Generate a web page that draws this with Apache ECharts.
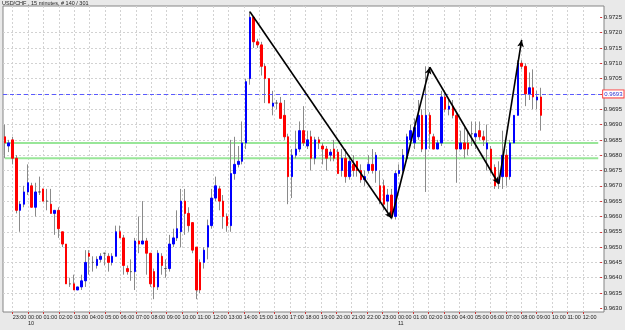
<!DOCTYPE html>
<html><head><meta charset="utf-8">
<script src="https://cdn.jsdelivr.net/npm/echarts@6/dist/echarts.min.js"></script>
<style>html,body{margin:0;padding:0;background:#e9e9e9}#c{width:625px;height:330px}</style>
</head><body><div id="c"></div>
<script>
const chartTitle = 'USD/CHF , 15 minutes, # 140 / 301';
const dateLabel = 'Jan/09/11';
const hourTicks = ['23:00','00:00','01:00','02:00','03:00','04:00','05:00','06:00','07:00','08:00','09:00','10:00','11:00','12:00','13:00','14:00','15:00','16:00','17:00','18:00','19:00','20:00','21:00','22:00','23:00','00:00','01:00','02:00','03:00','04:00','05:00','06:00','07:00','08:00','09:00','10:00','11:00','12:00'];
const dayMarks = ['', '10', '', '', '', '', '', '', '', '', '', '', '', '', '', '', '', '', '', '', '', '', '', '', '', '11', '', '', '', '', '', '', '', '', '', '', '', ''];
const priceTicks = [0.9630,0.9635,0.9640,0.9645,0.9650,0.9655,0.9660,0.9665,0.9670,0.9675,0.9680,0.9685,0.9690,0.9695,0.9700,0.9705,0.9710,0.9715,0.9720,0.9725];

const open = [.9686,.9683,.9685,.9679,.9662,.9664,.9668,.9670,.9663,.9668,.9669,.9665,.9664,.9661,.9662,.9655,.9651,.9638,.9638,.9636,
.9637,.9639,.9648,.9645,.9644,.9646,.9648,.9647,.9645,.9647,.9655,.9653,.9643,.9642,.9642,.9652,.9651,.9652,.9648,.9642,
.9637,.9647,.9643,.9643,.9651,.9653,.9655,.9665,.9661,.9658,.9650,.9645,.9645,.9650,.9657,.9666,.9669,.9665,.9660,.9657,
.9674,.9677,.9678,.9684,.9705,.9725,.9717,.9716,.9709,.9705,.9696,.9697,.9697,.9693,.9686,.9673,.9680,.9682,.9688,.9683,
.9686,.9679,.9685,.9683,.9682,.9680,.9682,.9681,.9675,.9679,.9673,.9677,.9678,.9675,.9672,.9675,.9677,.9675,.9670,.9670,
.9665,.9667,.9660,.9674,.9675,.9679,.9685,.9684,.9686,.9693,.9682,.9693,.9686,.9682,.9684,.9699,.9695,.9696,.9693,.9682,
.9684,.9684,.9687,.9686,.9688,.9686,.9682,.9682,.9676,.9671,.9673,.9680,.9673,.9684,.9693,.9710,.9709,.9700,.9702,.9698,.9699];
const close = [.9684,.9684,.9679,.9662,.9664,.9668,.9671,.9663,.9668,.9668,.9665,.9665,.9661,.9662,.9656,.9651,.9638,.9638,.9636,.9637,
.9639,.9645,.9647,.9645,.9646,.9647,.9648,.9645,.9647,.9655,.9653,.9644,.9642,.9642,.9652,.9651,.9652,.9648,.9638,.9637,
.9648,.9644,.9643,.9651,.9653,.9656,.9665,.9661,.9657,.9649,.9636,.9636,.9649,.9657,.9666,.9670,.9665,.9660,.9657,.9674,
.9677,.9678,.9684,.9704,.9725,.9717,.9716,.9709,.9705,.9697,.9697,.9697,.9692,.9686,.9673,.9680,.9682,.9688,.9684,.9685,
.9679,.9685,.9684,.9682,.9679,.9681,.9679,.9674,.9679,.9673,.9678,.9675,.9675,.9672,.9673,.9677,.9675,.9680,.9665,.9664,
.9667,.9660,.9674,.9675,.9680,.9686,.9688,.9689,.9693,.9682,.9693,.9687,.9682,.9684,.9699,.9695,.9696,.9693,.9682,.9684,
.9682,.9682,.9687,.9687,.9686,.9685,.9684,.9675,.9670,.9672,.9680,.9673,.9684,.9693,.9710,.9709,.9700,.9702,.9699,.9699,.9693];
const high = [.9690,.9685,.9686,.9680,.9665,.9670,.9677,.9671,.9671,.9673,.9669,.9669,.9669,.9662,.9663,.9655,.9651,.9640,.9641,.9637,
.9641,.9649,.9649,.9647,.9647,.9648,.9648,.9648,.9648,.9657,.9657,.9654,.9644,.9646,.9653,.9660,.9665,.9653,.9648,.9643,
.9649,.9648,.9646,.9654,.9656,.9662,.9669,.9669,.9663,.9658,.9650,.9646,.9650,.9659,.9669,.9673,.9670,.9667,.9661,.9685,
.9686,.9683,.9691,.9705,.9727,.9725,.9718,.9717,.9710,.9705,.9701,.9698,.9699,.9698,.9687,.9682,.9688,.9691,.9696,.9688,
.9688,.9686,.9686,.9684,.9683,.9682,.9685,.9682,.9682,.9682,.9680,.9680,.9678,.9677,.9675,.9680,.9682,.9681,.9675,.9672,
.9669,.9669,.9675,.9677,.9682,.9687,.9690,.9692,.9698,.9695,.9709,.9694,.9687,.9685,.9701,.9701,.9698,.9698,.9694,.9688,
.9689,.9688,.9691,.9691,.9691,.9688,.9690,.9683,.9677,.9678,.9688,.9682,.9685,.9693,.9711,.9711,.9710,.9707,.9708,.9701,.9702];
const low = [.9679,.9681,.9677,.9661,.9655,.9663,.9667,.9663,.9660,.9667,.9665,.9662,.9661,.9654,.9653,.9650,.9638,.9637,.9636,.9636,
.9636,.9637,.9641,.9642,.9643,.9645,.9644,.9642,.9644,.9647,.9653,.9641,.9641,.9639,.9636,.9648,.9651,.9641,.9637,.9633,
.9636,.9641,.9640,.9642,.9650,.9652,.9650,.9654,.9655,.9648,.9633,.9635,.9643,.9646,.9656,.9665,.9662,.9656,.9655,.9655,
.9672,.9676,.9677,.9682,.9703,.9715,.9715,.9706,.9697,.9697,.9693,.9695,.9692,.9685,.9664,.9666,.9679,.9681,.9683,.9682,
.9675,.9677,.9682,.9677,.9675,.9678,.9678,.9674,.9673,.9671,.9672,.9673,.9673,.9671,.9670,.9674,.9674,.9671,.9664,.9662,
.9660,.9659,.9659,.9673,.9674,.9678,.9683,.9682,.9685,.9681,.9668,.9682,.9682,.9682,.9683,.9694,.9693,.9692,.9671,.9682,
.9679,.9680,.9683,.9682,.9685,.9683,.9675,.9674,.9669,.9669,.9669,.9670,.9672,.9684,.9693,.9708,.9696,.9698,.9695,.9695,.9688];

const bidPrice = 0.9693;
const levelLines = [0.9684, 0.9679];
// zig-zag trend line: [bar index, price]
const trendPoints = [[64, 0.97268], [101, 0.96594], [111, 0.97087], [129, 0.96706], [135, 0.97176]];

const SLOTS = 156;
const cats = [];
for (let i = 0; i < SLOTS; i++) cats.push(String(i));
const isHour = i => i >= 2 && (i - 2) % 4 === 0 && (i - 2) / 4 < hourTicks.length;

const bodyData = open.map((o, i) => {
  const c = close[i];
  const item = { value: [o, c, Math.min(o, c), Math.max(o, c)] };
  if (o === c) item.itemStyle = { color: '#555', color0: '#555', borderColor: '#555', borderColor0: '#555' };
  return item;
});
const wickData = open.map((o, i) => [low[i], high[i], low[i], high[i]]);

const FONT = "'Liberation Sans Narrow','Arial Narrow','Liberation Sans',sans-serif";
const chart = echarts.init(document.getElementById('c'), null, { renderer: 'canvas' });
const yTop = 17.3 - 15.32;
const levelSeries = levelLines.map((v, k) => ({
  type: 'line', name: 'level' + k, xAxisIndex: 0, yAxisIndex: 0, silent: true, z: 1,
  showSymbol: false, symbol: 'none', animation: false,
  lineStyle: { color: '#98e698', width: 2, type: 'solid' },
  data: [[0, v], [SLOTS - 1, v]]
}));
chart.setOption({
  animation: false,
  backgroundColor: '#e9e9e9',
  graphic: [{ type: 'text', left: 2, top: 0, style: { text: chartTitle, font: '5.5px ' + FONT, fill: '#222' } }],
  grid: [
    { left: 3, right: 21, top: yTop, height: 15.32 * 21, show: false },
    { left: 3, right: 21, top: 6, bottom: 18, show: true, backgroundColor: '#ffffff', borderColor: '#858585', borderWidth: 1, z: -1 }
  ],
  xAxis: [
    { type: 'category', gridIndex: 0, data: cats, show: false },
    { type: 'category', gridIndex: 1, data: cats, boundaryGap: true,
      axisLine: { show: false },
      axisTick: { show: true, alignWithLabel: true, interval: (i) => isHour(i), length: 2, lineStyle: { color: '#cc3333' } },
      axisLabel: { show: true, interval: (i) => i === 0 || isHour(i), align: 'left', margin: 2,
        fontSize: 5.5, lineHeight: 6.3, fontFamily: FONT, color: '#222',
        formatter: (v, i) => {
          if (i === 0) return '\n' + dateLabel;
          const k = (i - 2) / 4;
          return hourTicks[k] + (dayMarks[k] ? '\n' + dayMarks[k] : '');
        } },
      splitLine: { show: true, alignWithLabel: true, interval: (i) => isHour(i), lineStyle: { color: '#d2d2d2', type: [2, 2], width: 1 } }
    }
  ],
  yAxis: [
    { type: 'value', gridIndex: 0, position: 'right', min: 0.9625, max: 0.9730, interval: 0.0005,
      axisLine: { show: false },
      axisTick: { show: true, length: 2, customValues: priceTicks, lineStyle: { color: '#cc3333' } },
      axisLabel: { customValues: priceTicks, margin: 3.5,
        fontSize: 6, fontFamily: FONT, color: '#222', formatter: v => v.toFixed(4) },
      splitLine: { show: true, showMinLine: false, showMaxLine: false, lineStyle: { color: '#d2d2d2', type: [2, 2], width: 1 } }
    },
    { type: 'value', gridIndex: 1, min: 0, max: 1, show: false }
  ],
  series: [
    ...levelSeries,
    { type: 'candlestick', name: 'wick', xAxisIndex: 0, yAxisIndex: 0, barWidth: 0.01, data: wickData, silent: true, z: 2,
      itemStyle: { color: '#8a8a8a', color0: '#8a8a8a', borderColor: '#8a8a8a', borderColor0: '#8a8a8a', borderWidth: 1 } },
    { type: 'candlestick', name: 'body', xAxisIndex: 0, yAxisIndex: 0, barWidth: 2, data: bodyData, silent: true, z: 3,
      itemStyle: { color: '#0000ff', color0: '#ff0000', borderColor: '#0000ff', borderColor0: '#ff0000', borderWidth: 1 } },
    { type: 'line', name: 'bid', xAxisIndex: 0, yAxisIndex: 0, data: [], silent: true, z: 4,
      markLine: { silent: true, symbol: ['none', 'none'], animation: false,
        lineStyle: { color: '#5a5aff', width: 1, type: [4, 3] },
        label: { show: true, position: 'end', distance: 3, fontSize: 6, fontFamily: FONT,
          color: '#3030d0', backgroundColor: '#ffffff', borderColor: '#ff4040', borderWidth: 1, padding: [1, 1, 0, 1],
          formatter: () => bidPrice.toFixed(4) },
        data: [{ yAxis: bidPrice }] } },
    { type: 'line', name: 'trend', xAxisIndex: 0, yAxisIndex: 0, data: [], silent: true, z: 5,
      markLine: { silent: true, symbol: ['none', 'arrow'], symbolSize: [5, 7], animation: false,
        lineStyle: { color: '#000000', width: 1.6, type: 'solid' }, label: { show: false },
        data: trendPoints.slice(1).map((p, k) => [{ coord: trendPoints[k] }, { coord: p }]) } }
  ]
});
</script></body></html>
